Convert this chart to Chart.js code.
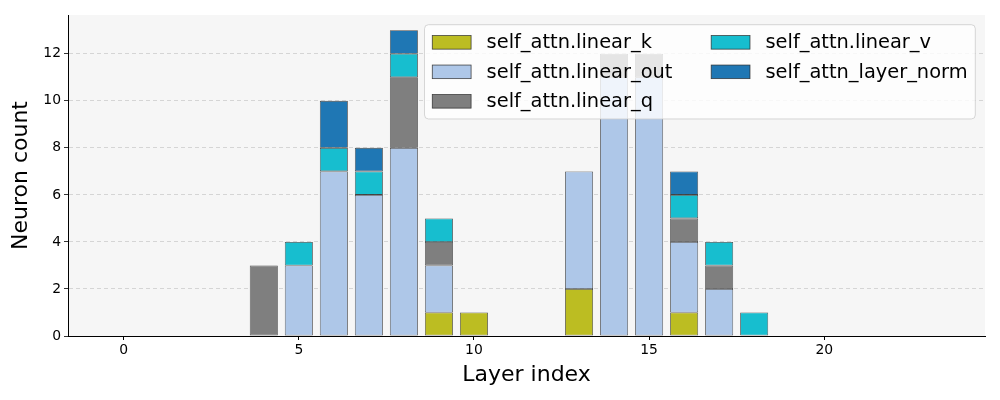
<!DOCTYPE html>
<html>
<head>
<meta charset="utf-8">
<script src="https://cdn.jsdelivr.net/npm/chart.js@4"></script>
<style>
	html, body { margin: 0; padding: 0; background: #fff; }
	#wrap { width: 1000px; height: 400px; }
</style>
</head>
<body>
<div id="wrap"><canvas id="chart" width="1000" height="400"></canvas></div>
<script>
// layer indices 0..23, null where a module has no neurons
const layers = [0, 1, 2, 3, 4, 5, 6, 7, 8, 9, 10, 11, 12, 13, 14, 15, 16, 17, 18, 19, 20, 21, 22, 23]
const linearK    = [null, null, null, null, null, null, null, null, null, 1, 1, null, null, 2, null, null, 1, null, null, null, null, null, null, null]
const linearOut  = [null, null, null, null, null, 3, 7, 6, 8, 2, null, null, null, 5, 11, 11, 3, 2, null, null, null, null, null, null]
const linearQ    = [null, null, null, null, 3, null, null, null, 3, 1, null, null, null, null, 1, 1, 1, 1, null, null, null, null, null, null]
const linearV    = [null, null, null, null, null, 1, 1, 1, 1, 1, null, null, null, null, null, null, 1, 1, 1, null, null, null, null, null]
const layerNorm  = [null, null, null, null, null, null, 2, 1, 1, null, null, null, null, null, null, null, 1, null, null, null, null, null, null, null]
const xTicks = [0, 5, 10, 15, 20]
const yTicks = [0, 2, 4, 6, 8, 10, 12]

const FONT = "'DejaVu Sans', sans-serif"
const EDGE = 'rgba(40,40,40,0.85)'

const series = [
	{ label: 'self_attn.linear_k', values: linearK, color: '#bcbd22' },
	{ label: 'self_attn.linear_out', values: linearOut, color: '#aec7e8' },
	{ label: 'self_attn.linear_q', values: linearQ, color: '#7f7f7f' },
	{ label: 'self_attn.linear_v', values: linearV, color: '#17becf' },
	{ label: 'self_attn_layer_norm', values: layerNorm, color: '#1f77b4' },
]

const plotBg = {
	id: 'plotBg',
	beforeDraw(chart) {
		const { ctx, chartArea: a } = chart
		ctx.save()
		ctx.fillStyle = '#f6f6f6'
		ctx.fillRect(a.left, a.top, a.right - a.left, a.bottom - a.top)
		ctx.restore()
	},
}

// matplotlib-style legend: upper right, 2 columns, filled column by column
const boxLegend = {
	id: 'boxLegend',
	afterDatasetsDraw(chart) {
		const { ctx, chartArea: a } = chart
		const fs = 19.4
		const pad = 0.4 * fs, handleW = 2 * fs, handleH = 0.7 * fs
		const textPad = 0.8 * fs, colGap = 2 * fs, rowH = 1.02 * fs, rowGap = 0.5 * fs
		const ds = chart.data.datasets
		ctx.save()
		ctx.font = fs + 'px ' + FONT
		const cols = [ds.slice(0, 3), ds.slice(3)]
		const colW = cols.map((c) => handleW + textPad + Math.max(...c.map((d) => ctx.measureText(d.label).width)))
		const w = 2 * pad + colW[0] + colGap + colW[1]
		const h = 2 * pad + 3 * rowH + 2 * rowGap
		const x0 = a.right - 0.5 * fs - w
		const y0 = a.top + 0.5 * fs
		ctx.beginPath()
		ctx.roundRect(x0, y0, w, h, 4)
		ctx.fillStyle = 'rgba(255,255,255,0.8)'
		ctx.fill()
		ctx.strokeStyle = 'rgba(204,204,204,0.8)'
		ctx.lineWidth = 1
		ctx.stroke()
		let cx = x0 + pad
		cols.forEach((c, ci) => {
			c.forEach((d, ri) => {
				const cy = y0 + pad + ri * (rowH + rowGap) + rowH / 2
				ctx.fillStyle = d.backgroundColor
				ctx.fillRect(cx, cy - handleH / 2, handleW, handleH)
				ctx.strokeStyle = EDGE
				ctx.lineWidth = 0.8
				ctx.strokeRect(cx, cy - handleH / 2, handleW, handleH)
				ctx.fillStyle = '#000'
				ctx.textBaseline = 'middle'
				ctx.fillText(d.label, cx + handleW + textPad, cy + 1)
			})
			cx += colW[ci] + colGap
		})
		ctx.restore()
	},
}

const chart = new Chart(document.getElementById('chart'), {
	type: 'bar',
	data: {
		datasets: series.map((s) => ({
			label: s.label,
			data: layers.map((l, i) => ({ x: l, y: s.values[i] })),
			backgroundColor: s.color,
			borderColor: EDGE,
			borderWidth: 0.8,
			borderSkipped: false,
			barPercentage: 0.8,
			categoryPercentage: 1.0,
		})),
	},
	options: {
		responsive: false,
		animation: false,
		devicePixelRatio: 1,
		layout: { padding: { left: 0, right: 15, top: 15, bottom: 0 } },
		plugins: {
			legend: { display: false },
			tooltip: { enabled: false },
		},
		scales: {
			x: {
				type: 'linear',
				stacked: true,
				offset: false,
				min: -1.59,
				max: 24.59,
				afterFit: (s) => { s.height = 64 },
				afterBuildTicks: (s) => { s.ticks = xTicks.map((v) => ({ value: v })) },
				ticks: { font: { family: FONT, size: 13.9 }, color: '#000', padding: 2 },
				grid: { display: true, drawOnChartArea: false, drawTicks: true, tickLength: 4, tickColor: '#000', offset: false },
				border: { display: true, color: '#000', width: 1 },
				title: { display: true, text: 'Layer index', font: { family: FONT, size: 22 }, color: '#000', padding: { top: 0, bottom: 12 } },
			},
			y: {
				stacked: true,
				min: 0,
				max: 13.65,
				afterFit: (s) => { s.width = 68 },
				afterBuildTicks: (s) => { s.ticks = yTicks.map((v) => ({ value: v })) },
				ticks: { font: { family: FONT, size: 13.9 }, color: '#000', padding: 3 },
				grid: { color: 'rgba(176,176,176,0.6)', lineWidth: 0.8, tickColor: '#000', tickLength: 4, tickBorderDash: [], drawTicks: true },
				border: { display: true, color: '#000', width: 1, dash: [4, 3] },
				title: { display: true, text: 'Neuron count', font: { family: FONT, size: 22 }, color: '#000', padding: { top: 8, bottom: 0 } },
			},
		},
	},
	plugins: [plotBg, boxLegend],
})
</script>
</body>
</html>
